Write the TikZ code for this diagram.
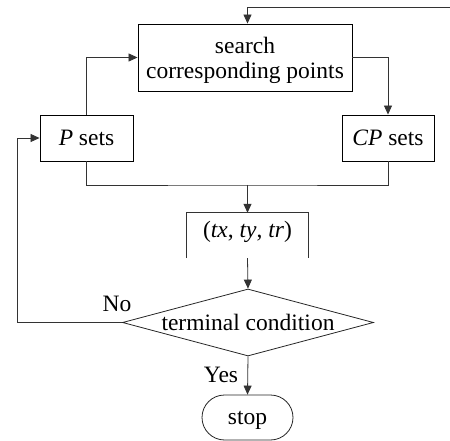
\documentclass[tikz,border=0pt]{standalone}
\usepackage{fontspec}
\setmainfont{Liberation Serif}
\usetikzlibrary{arrows.meta,shapes.geometric,shapes.misc,calc}
\begin{document}
\begin{tikzpicture}[x=1pt,y=-1pt,
  every node/.style={font=\fontsize{23.5}{25}\selectfont, inner sep=0pt},
  box/.style={draw=black, line width=0.9pt, rectangle},
  conn/.style={draw=black!80, line width=0.8pt},
  arr/.style={conn, -{Triangle[length=9pt,width=8pt]}},
  lbl/.style={font=\fontsize{23.5}{25}\selectfont}]
\useasboundingbox (0,0) rectangle (450,441);
\node[box, minimum width=214pt, minimum height=67pt, align=center, text depth=0pt] (search) at (245,57.5) {search\\corresponding points};
\node[box, minimum width=93pt, minimum height=46pt] (P) at (86.5,138) {\textit{P} sets};
\node[box, minimum width=92pt, minimum height=46pt] (CP) at (388,138) {\textit{CP} sets};
\node[minimum width=121pt, minimum height=45pt, text height=9pt, text depth=6pt] (T) at (247.5,235.5) {(\textit{tx}, \textit{ty}, \textit{tr})};
\draw[line width=0.8pt, black!80] (T.south west) -- (T.north west) -- (T.north east) -- (T.south east);
\node[draw=black!85, line width=0.8pt, diamond, aspect=3.75, minimum width=251pt, minimum height=67pt] (D) at (248,322.5) {terminal condition};
\node[draw=black!85, line width=0.8pt, rounded rectangle, minimum width=91pt, minimum height=45pt, text depth=0pt] (S) at (247.5,417.5) {stop};
\coordinate (topin) at (451,7);
\coordinate (merge) at (247.5,185);
\coordinate (noturn) at (17,322.5);
\draw[arr] (topin) -| ($(search.north)+(2.5,0)$);
\draw[arr] (P.north) |- (search.west);
\draw[arr] (search.east) -| (CP.north);
\draw[conn] (P.south) |- (merge) -| (CP.south);
\draw[arr] (merge) -- (T.north);
\draw[arr] (T.south) -- (D.north);
\draw[arr] (D.west) -- (noturn) |- (P.west);
\draw[arr] (D.south) -- (S.north);
\node[lbl] (no) at (117,304) {No};
\node[lbl] (yes) at (221,375) {Yes};
\end{tikzpicture}
\end{document}
